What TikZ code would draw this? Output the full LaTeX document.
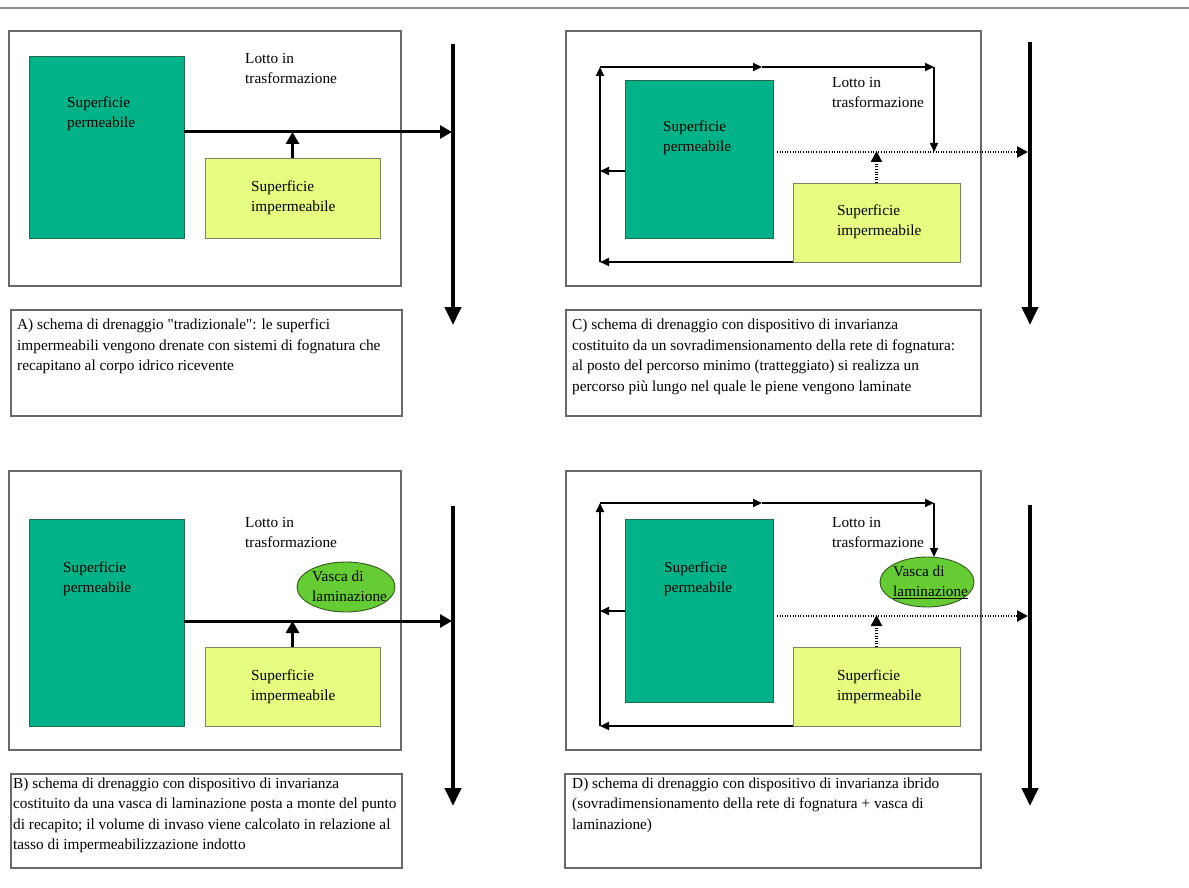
\documentclass[tikz,border=0pt]{standalone}
\usepackage{fontspec}
\setmainfont{Liberation Serif}
\usetikzlibrary{arrows.meta,shapes.geometric}
\definecolor{perm}{RGB}{0,178,136}
\definecolor{permb}{RGB}{35,105,75}
\definecolor{imp}{RGB}{230,253,128}
\definecolor{impb}{RGB}{125,130,100}
\definecolor{vasca}{RGB}{102,204,51}
\definecolor{vascab}{RGB}{50,90,30}
\definecolor{frame}{RGB}{105,105,105}
\begin{document}
\begin{tikzpicture}[x=1pt,y=-1pt,
  box/.style={anchor=north west,inner sep=0pt,outer sep=0pt},
  lot/.style={box,draw=frame,line width=1.3pt,fill=white},
  permbox/.style={box,draw=permb,fill=perm,line width=0.9pt},
  impbox/.style={box,draw=impb,fill=imp,line width=0.9pt},
  vascanode/.style={ellipse,draw=vascab,fill=vasca,line width=0.9pt,inner sep=0pt,outer sep=0pt},
  lbl/.style={anchor=north west,inner sep=0pt,align=left,font=\fontsize{15.3}{20}\selectfont},
  captxt/.style={anchor=north west,inner sep=0pt,align=left,font=\fontsize{15.3}{20.5}\selectfont},
  recv/.style={line width=4pt,-{Triangle[length=18pt,width=16pt]}},
  mainarr/.style={line width=3pt,-{Triangle[length=12pt,width=13pt]}},
  patharr/.style={line width=2pt,-{Triangle[length=9pt,width=8pt]}},
  dotarr/.style={line width=2.4pt,dash pattern=on 1pt off 1.6pt,-{Triangle[length=11pt,width=11pt]}}
]
\useasboundingbox (0,0) rectangle (1189,888);
\fill[white] (0,0) rectangle (1189,888);
\coordinate (tl) at (0,8);
\coordinate (tr) at (1189,8);
\draw[line width=1.8pt,color=black!45] (tl) -- (tr);

%% ---------------- Panel A ----------------
\node[lot,minimum width=392,minimum height=255] (lotA) at (9,31) {};
\node[permbox,minimum width=155,minimum height=182] (permA) at (29,56) {};
\node[impbox,minimum width=175,minimum height=80] (impA) at (205,158) {};
\node[lbl] (tpA) at (67,97) {Superficie\\permeabile};
\node[lbl] (tlA) at (245,53) {Lotto in\\trasformazione};
\node[lbl] (tiA) at (251,181) {Superficie\\impermeabile};
\coordinate (rtA) at (453,44);
\coordinate (rbA) at (453,325);
\coordinate (jA) at (292,132);
\draw[recv] (rtA) -- (rbA);
\draw[mainarr] (permA.east |- jA) -- ([xshift=-1pt]rtA |- jA);
\draw[mainarr] (impA.north) -- (impA.north |- jA);
\node[lot,minimum width=391,minimum height=106] (capA) at (11,310) {};
\node[captxt] (ctA) at (17,319) {A) schema di drenaggio \textquotedbl tradizionale\textquotedbl: le superfici\\impermeabili vengono drenate con sistemi di fognatura che\\recapitano al corpo idrico ricevente};

%% ---------------- Panel C ----------------
\node[lot,minimum width=415,minimum height=255] (lotC) at (566,31) {};
\node[permbox,minimum width=148,minimum height=158] (permC) at (625,80) {};
\node[impbox,minimum width=167,minimum height=79] (impC) at (793,183) {};
\node[lbl] (tpC) at (663,121) {Superficie\\permeabile};
\node[lbl] (tlC) at (832,77) {Lotto in\\trasformazione};
\node[lbl] (tiC) at (837,205) {Superficie\\impermeabile};
\coordinate (c1C) at (600,67);
\coordinate (cmC) at (762,67);
\coordinate (c2C) at (934,67);
\coordinate (dC) at (1028,152);
\coordinate (lC) at (600,171);
\coordinate (rtC) at (1030,42);
\coordinate (rbC) at (1030,325);
\draw[recv] (rtC) -- (rbC);
\draw[patharr] (impC.south west) -- (impC.south west -| c1C);
\draw[patharr] (permC.west |- lC) -- (lC);
\draw[patharr] (impC.south west -| c1C) -- (c1C);
\draw[patharr] (c1C) -- (cmC);
\draw[patharr] (cmC) -- (c2C);
\draw[patharr] (c2C) -- (c2C |- dC);
\draw[dotarr] ([xshift=4pt]permC.east |- dC) -- (dC);
\draw[dotarr] (impC.north) -- ([yshift=1pt]impC.north |- dC);
\node[lot,minimum width=415,minimum height=106] (capC) at (566,310) {};
\node[captxt] (ctC) at (572,319) {C) schema di drenaggio con dispositivo di invarianza\\costituito da un sovradimensionamento della rete di fognatura:\\al posto del percorso minimo (tratteggiato) si realizza un\\percorso più lungo nel quale le piene vengono laminate};

%% ---------------- Panel B ----------------
\node[lot,minimum width=392,minimum height=279] (lotB) at (9,471) {};
\node[permbox,minimum width=155,minimum height=207] (permB) at (29,519) {};
\node[impbox,minimum width=175,minimum height=79] (impB) at (205,647) {};
\node[vascanode,minimum width=98,minimum height=50] (vB) at (346,587) {};
\node[lbl] (tpB) at (63,562) {Superficie\\permeabile};
\node[lbl] (tlB) at (245,517) {Lotto in\\trasformazione};
\node[lbl] (tiB) at (251,670) {Superficie\\impermeabile};
\node[lbl] (tvB) at (312,571) {Vasca di\\laminazione};
\coordinate (rtB) at (453,506);
\coordinate (rbB) at (453,806);
\coordinate (jB) at (292,621);
\draw[recv] (rtB) -- (rbB);
\draw[mainarr] (permB.east |- jB) -- ([xshift=-1pt]rtB |- jB);
\draw[mainarr] (impB.north) -- (impB.north |- jB);
\node[lot,minimum width=391,minimum height=94] (capB) at (11,774) {};
\node[captxt] (ctB) at (13,777.5) {B) schema di drenaggio con dispositivo di invarianza\\costituito da una vasca di laminazione posta a monte del punto\\di recapito; il volume di invaso viene calcolato in relazione al\\tasso di impermeabilizzazione indotto};

%% ---------------- Panel D ----------------
\node[lot,minimum width=415,minimum height=279] (lotD) at (566,471) {};
\node[permbox,minimum width=148,minimum height=183] (permD) at (625,519) {};
\node[impbox,minimum width=167,minimum height=79] (impD) at (793,647) {};
\node[vascanode,minimum width=94,minimum height=50] (vD) at (927,582) {};
\node[lbl] (tpD) at (664,562) {Superficie\\permeabile};
\node[lbl] (tlD) at (832,517) {Lotto in\\trasformazione};
\node[lbl] (tiD) at (837,670) {Superficie\\impermeabile};
\node[lbl] (tvD) at (893,566) {Vasca di\\\underline{laminazione}};
\coordinate (c1D) at (600,503);
\coordinate (cmD) at (762,503);
\coordinate (c2D) at (934,503);
\coordinate (dD) at (1028,616);
\coordinate (lD) at (600,611);
\coordinate (rtD) at (1030,505);
\coordinate (rbD) at (1030,806);
\draw[recv] (rtD) -- (rbD);
\draw[patharr] (impD.south west) -- (impD.south west -| c1D);
\draw[patharr] (permD.west |- lD) -- (lD);
\draw[patharr] (impD.south west -| c1D) -- (c1D);
\draw[patharr] (c1D) -- (cmD);
\draw[patharr] (cmD) -- (c2D);
\draw[patharr] (c2D) -- (c2D |- vD.north);
\draw[dotarr] ([xshift=4pt]permD.east |- dD) -- (dD);
\draw[dotarr] (impD.north) -- ([yshift=1pt]impD.north |- dD);
\node[lot,minimum width=416,minimum height=94] (capD) at (565,774) {};
\node[captxt] (ctD) at (572,777.5) {D) schema di drenaggio con dispositivo di invarianza ibrido\\(sovradimensionamento della rete di fognatura + vasca di\\laminazione)};
\end{tikzpicture}
\end{document}
